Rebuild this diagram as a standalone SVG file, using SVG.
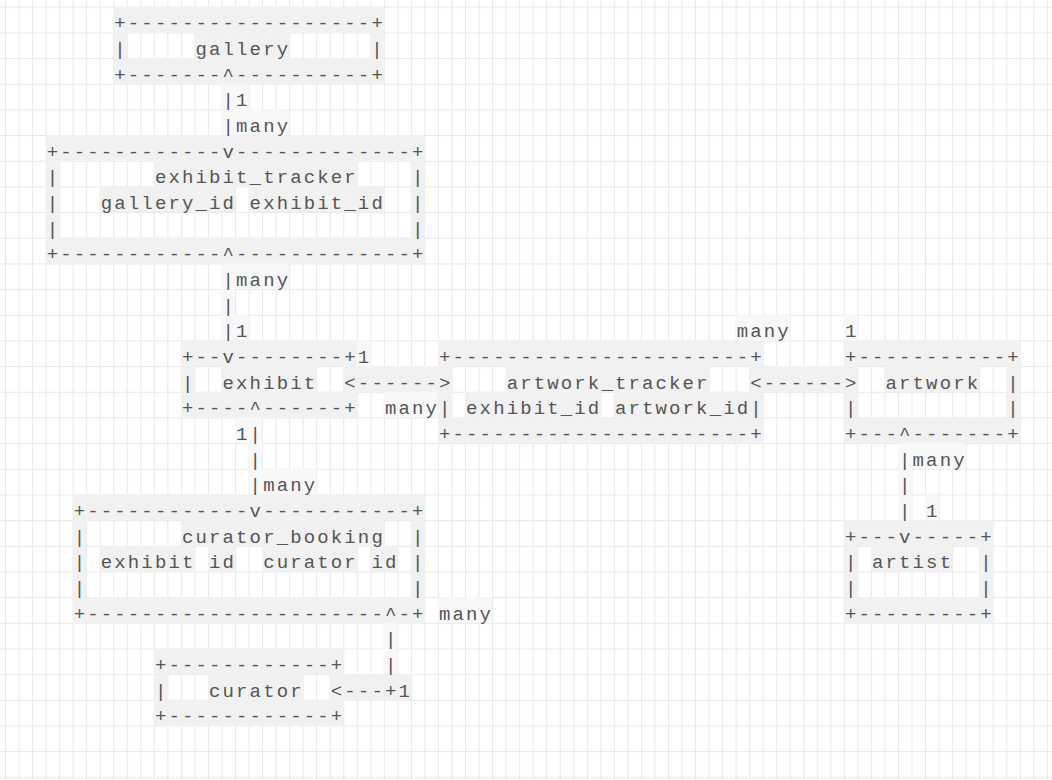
<svg xmlns="http://www.w3.org/2000/svg" width="1052" height="780" viewBox="0 0 1052 780" xml:space="preserve">
<style>
.t text { font-family: "Liberation Mono", "Courier New", monospace; font-size: 19px; letter-spacing: 2.13px; fill: #555; white-space: pre; }
.bg rect { fill: #f1f1f1; height: 25.67px; }
.lb rect { fill: #f8f8f8; height: 25.67px; }
</style>
<defs>
<pattern id="grid" x="5" y="6.7" width="13.53" height="25.67" patternUnits="userSpaceOnUse">
<rect width="13.53" height="25.67" fill="#ffffff"/>
<rect width="13.53" height="1" fill="#e9e9e9"/>
<rect width="1" height="25.67" fill="#e9e9e9"/>
</pattern>
</defs>
<rect width="1052" height="780" fill="url(#grid)"/>

<g id="gallery">
<g class="bg" transform="translate(5 6.7)">
<rect x="108.24" y="0" width="270.6"/>
<rect x="108.24" y="25.67" width="13.53"/>
<rect x="189.42" y="25.67" width="94.71"/>
<rect x="365.31" y="25.67" width="13.53"/>
<rect x="108.24" y="51.34" width="270.6"/>
</g>
<g class="t" transform="translate(6.065 29.2)">
<text x="108.24" y="0">+------------------+</text>
<text x="108.24" y="25.67">|</text>
<text x="189.42" y="25.67">gallery</text>
<text x="365.31" y="25.67">|</text>
<text x="108.24" y="51.34">+-------^----------+</text>
</g>
</g>

<g id="exhibit_tracker">
<g class="bg" transform="translate(5 6.7)">
<rect x="40.59" y="128.35" width="378.84"/>
<rect x="40.59" y="154.02" width="13.53" style="height:77.01px"/>
<rect x="405.9" y="154.02" width="13.53" style="height:77.01px"/>
<rect x="148.83" y="154.02" width="202.95"/>
<rect x="94.71" y="179.69" width="135.3"/>
<rect x="243.54" y="179.69" width="135.3"/>
<rect x="40.59" y="231.03" width="378.84"/>
</g>
<g class="t" transform="translate(6.065 29.2)">
<text x="40.59" y="128.35">+------------v-------------+</text>
<text x="40.59" y="154.02">|</text>
<text x="148.83" y="154.02">exhibit_tracker</text>
<text x="405.9" y="154.02">|</text>
<text x="40.59" y="179.69">|</text>
<text x="94.71" y="179.69">gallery_id exhibit_id</text>
<text x="405.9" y="179.69">|</text>
<text x="40.59" y="205.36">|</text>
<text x="405.9" y="205.36">|</text>
<text x="40.59" y="231.03">+------------^-------------+</text>
</g>
</g>

<g id="exhibit">
<g class="bg" transform="translate(5 6.7)">
<rect x="175.89" y="333.71" width="175.89"/>
<rect x="175.89" y="359.38" width="13.53"/>
<rect x="216.48" y="359.38" width="94.71"/>
<rect x="175.89" y="385.05" width="175.89"/>
</g>
<g class="t" transform="translate(6.065 29.2)">
<text x="175.89" y="333.71">+--v--------+</text>
<text x="175.89" y="359.38">|</text>
<text x="216.48" y="359.38">exhibit</text>
<text x="175.89" y="385.05">+----^------+</text>
</g>
</g>

<g id="artwork_tracker">
<g class="bg" transform="translate(5 6.7)">
<rect x="432.96" y="333.71" width="324.72"/>
<rect x="500.61" y="359.38" width="202.95"/>
<rect x="432.96" y="385.05" width="13.53"/>
<rect x="460.02" y="385.05" width="135.3"/>
<rect x="608.85" y="385.05" width="135.3"/>
<rect x="744.15" y="385.05" width="13.53"/>
<rect x="432.96" y="410.72" width="324.72"/>
</g>
<g class="t" transform="translate(6.065 29.2)">
<text x="432.96" y="333.71">+----------------------+</text>
<text x="500.61" y="359.38">artwork_tracker</text>
<text x="432.96" y="385.05">|</text>
<text x="460.02" y="385.05">exhibit_id artwork_id</text>
<text x="744.15" y="385.05">|</text>
<text x="432.96" y="410.72">+----------------------+</text>
</g>
</g>

<g id="artwork">
<g class="bg" transform="translate(5 6.7)">
<rect x="838.86" y="333.71" width="175.89"/>
<rect x="879.45" y="359.38" width="94.71"/>
<rect x="1001.22" y="359.38" width="13.53"/>
<rect x="838.86" y="385.05" width="13.53"/>
<rect x="1001.22" y="385.05" width="13.53"/>
<rect x="838.86" y="410.72" width="175.89"/>
</g>
<g class="t" transform="translate(6.065 29.2)">
<text x="838.86" y="333.71">+-----------+</text>
<text x="879.45" y="359.38">artwork</text>
<text x="1001.22" y="359.38">|</text>
<text x="838.86" y="385.05">|</text>
<text x="1001.22" y="385.05">|</text>
<text x="838.86" y="410.72">+---^-------+</text>
</g>
</g>

<g id="curator_booking">
<g class="bg" transform="translate(5 6.7)">
<rect x="67.65" y="487.73" width="351.78"/>
<rect x="67.65" y="513.4" width="13.53" style="height:77.01px"/>
<rect x="405.9" y="513.4" width="13.53" style="height:77.01px"/>
<rect x="175.89" y="513.4" width="202.95"/>
<rect x="94.71" y="539.07" width="94.71"/>
<rect x="202.95" y="539.07" width="27.06"/>
<rect x="257.07" y="539.07" width="94.71"/>
<rect x="365.31" y="539.07" width="27.06"/>
<rect x="67.65" y="590.41" width="351.78"/>
</g>
<g class="t" transform="translate(6.065 29.2)">
<text x="67.65" y="487.73">+------------v-----------+</text>
<text x="67.65" y="513.4">|</text>
<text x="175.89" y="513.4">curator_booking</text>
<text x="405.9" y="513.4">|</text>
<text x="67.65" y="539.07">|</text>
<text x="94.71" y="539.07">exhibit id  curator id</text>
<text x="405.9" y="539.07">|</text>
<text x="67.65" y="564.74">|</text>
<text x="405.9" y="564.74">|</text>
<text x="67.65" y="590.41">+----------------------^-+</text>
</g>
</g>

<g id="artist">
<g class="bg" transform="translate(5 6.7)">
<rect x="838.86" y="513.4" width="148.83"/>
<rect x="838.86" y="539.07" width="13.53" style="height:51.34px"/>
<rect x="974.16" y="539.07" width="13.53" style="height:51.34px"/>
<rect x="865.92" y="539.07" width="81.18"/>
<rect x="838.86" y="590.41" width="148.83"/>
</g>
<g class="t" transform="translate(6.065 29.2)">
<text x="838.86" y="513.4">+---v-----+</text>
<text x="838.86" y="539.07">|</text>
<text x="865.92" y="539.07">artist</text>
<text x="974.16" y="539.07">|</text>
<text x="838.86" y="564.74">|</text>
<text x="974.16" y="564.74">|</text>
<text x="838.86" y="590.41">+---------+</text>
</g>
</g>

<g id="curator">
<g class="bg" transform="translate(5 6.7)">
<rect x="148.83" y="641.75" width="189.42"/>
<rect x="148.83" y="667.42" width="13.53"/>
<rect x="202.95" y="667.42" width="94.71"/>
<rect x="148.83" y="693.09" width="189.42"/>
</g>
<g class="t" transform="translate(6.065 29.2)">
<text x="148.83" y="641.75">+------------+</text>
<text x="148.83" y="667.42">|</text>
<text x="202.95" y="667.42">curator</text>
<text x="148.83" y="693.09">+------------+</text>
</g>
</g>

<g id="connectors">
<g class="lb" transform="translate(5 6.7)">
<rect x="216.48" y="77.01" width="27.06"/>
<rect x="216.48" y="102.68" width="67.65"/>
<rect x="216.48" y="256.7" width="67.65"/>
<rect x="216.48" y="282.37" width="13.53"/>
<rect x="216.48" y="308.04" width="27.06"/>
<rect x="730.62" y="308.04" width="54.12"/>
<rect x="838.86" y="308.04" width="13.53"/>
<rect x="351.78" y="333.71" width="13.53"/>
<rect x="378.84" y="385.05" width="54.12"/>
<rect x="230.01" y="410.72" width="27.06"/>
<rect x="243.54" y="436.39" width="13.53"/>
<rect x="243.54" y="462.06" width="67.65"/>
<rect x="892.98" y="436.39" width="67.65"/>
<rect x="892.98" y="462.06" width="13.53"/>
<rect x="892.98" y="487.73" width="13.53"/>
<rect x="920.04" y="487.73" width="13.53"/>
<rect x="432.96" y="590.41" width="54.12"/>
<rect x="378.84" y="616.08" width="13.53"/>
<rect x="378.84" y="641.75" width="13.53"/>
</g>
<g class="bg" transform="translate(5 6.7)">
<rect x="338.25" y="359.38" width="108.24"/>
<rect x="744.15" y="359.38" width="108.24"/>
<rect x="324.72" y="667.42" width="81.18"/>
</g>
<g class="t" transform="translate(6.065 29.2)">
<text x="216.48" y="77.01">|1</text>
<text x="216.48" y="102.68">|many</text>
<text x="216.48" y="256.7">|many</text>
<text x="216.48" y="282.37">|</text>
<text x="216.48" y="308.04">|1</text>
<text x="351.78" y="333.71">1</text>
<text x="338.25" y="359.38">&lt;------&gt;</text>
<text x="378.84" y="385.05">many</text>
<text x="730.62" y="308.04">many</text>
<text x="838.86" y="308.04">1</text>
<text x="744.15" y="359.38">&lt;------&gt;</text>
<text x="892.98" y="436.39">|many</text>
<text x="892.98" y="462.06">|</text>
<text x="892.98" y="487.73">| 1</text>
<text x="230.01" y="410.72">1|</text>
<text x="243.54" y="436.39">|</text>
<text x="243.54" y="462.06">|many</text>
<text x="432.96" y="590.41">many</text>
<text x="378.84" y="616.08">|</text>
<text x="378.84" y="641.75">|</text>
<text x="324.72" y="667.42">&lt;---+1</text>
</g>
</g>
</svg>
